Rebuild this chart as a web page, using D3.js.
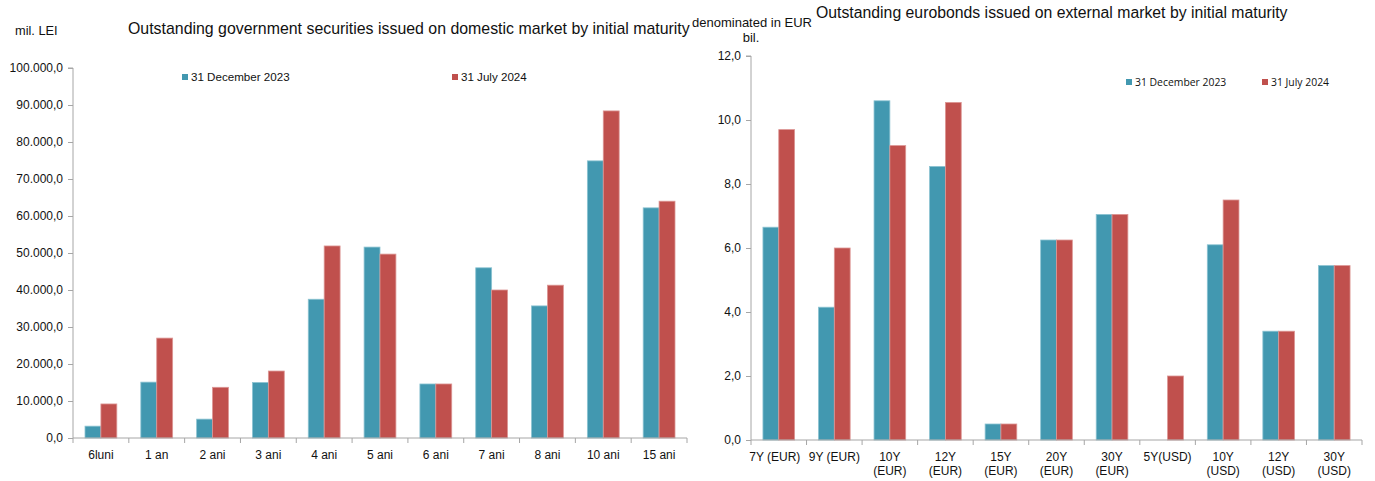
<!DOCTYPE html>
<html>
<head>
<meta charset="utf-8">
<script src="https://cdn.jsdelivr.net/npm/d3@7"></script>
<style>
  html, body { margin: 0; padding: 0; background: #fff; }
  svg { display: block; font-family: "Liberation Sans", Arial, sans-serif; }
</style>
</head>
<body>
<svg id="chart" width="1375" height="481"></svg>
<script>
// Domestic market: outstanding government securities by initial maturity (mil. LEI)
const domesticCategories = ["6luni", "1 an", "2 ani", "3 ani", "4 ani", "5 ani", "6 ani", "7 ani", "8 ani", "10 ani", "15 ani"];
const domesticDec2023 = [3200, 15100, 5100, 15000, 37500, 51600, 14600, 46000, 35700, 74900, 62200];
const domesticJul2024 = [9200, 27000, 13700, 18100, 51900, 49700, 14600, 40000, 41300, 88400, 64000];
const domesticTicks = [0, 10000, 20000, 30000, 40000, 50000, 60000, 70000, 80000, 90000, 100000];

// External market: outstanding eurobonds by initial maturity (bil., denominated in EUR)
const externalCategories = ["7Y (EUR)", "9Y (EUR)", "10Y\n(EUR)", "12Y\n(EUR)", "15Y\n(EUR)", "20Y\n(EUR)", "30Y\n(EUR)", "5Y(USD)", "10Y\n(USD)", "12Y\n(USD)", "30Y\n(USD)"];
const externalDec2023 = [6.65, 4.15, 10.6, 8.55, 0.5, 6.25, 7.05, 0, 6.1, 3.4, 5.45];
const externalJul2024 = [9.7, 6.0, 9.2, 10.55, 0.5, 6.25, 7.05, 2.0, 7.5, 3.4, 5.45];
const externalTicks = [0, 2, 4, 6, 8, 10, 12];

const seriesNames = ["31 December 2023", "31 July 2024"];
const seriesColors = ["#4298b0", "#c0504d"];
const seriesStrokes = ["#8cc3d2", "#dc9694"];

const roLocale = d3.formatLocale({ decimal: ",", thousands: ".", grouping: [3], currency: ["", ""] });
const fmtDomestic = roLocale.format(",.1f");
const fmtExternal = roLocale.format(".1f");

const svg = d3.select("#chart");
const axisColor = "#a6a6a6";

function drawPanel(opts) {
  const g = svg.append("g");
  const x0 = d3.scaleBand().domain(opts.categories).range([opts.left, opts.right]).padding(0);
  const bw = x0.bandwidth();
  const x1 = d3.scaleBand().domain(seriesNames).range([bw * 0.215, bw * 0.785]).padding(0);
  const y = d3.scaleLinear().domain([0, opts.yMax]).range([opts.bottom, opts.top]);

  const rows = opts.categories.map((c, i) => ({ cat: c, vals: [opts.s1[i], opts.s2[i]] }));

  // bars
  const groups = g.selectAll("g.grp").data(rows).enter().append("g")
    .attr("transform", d => `translate(${x0(d.cat)},0)`);
  groups.selectAll("rect")
    .data(d => d.vals.map((v, k) => ({ v, k })).filter(e => e.v > 0))
    .enter().append("rect")
    .attr("x", e => x1(seriesNames[e.k]))
    .attr("width", x1.bandwidth())
    .attr("y", e => y(e.v))
    .attr("height", e => y(0) - y(e.v))
    .attr("fill", e => seriesColors[e.k])
    .attr("stroke", e => seriesStrokes[e.k])
    .attr("stroke-width", 0.8);

  // y axis
  const yAxis = g.append("g")
    .attr("transform", `translate(${opts.left},0)`)
    .call(d3.axisLeft(y).tickValues(opts.ticks).tickFormat(opts.fmt).tickSize(5).tickPadding(5));
  yAxis.selectAll("path, line").attr("stroke", axisColor);
  yAxis.select("path.domain").attr("d", `M-5,${y(opts.yMax)}H0V${y(0)}`);
  yAxis.selectAll("text").attr("font-size", 12).attr("fill", "#111")
    .attr("font-family", "'Liberation Sans', Arial, sans-serif");

  // x axis: line plus ticks on band boundaries
  const xg = g.append("g");
  xg.append("line").attr("x1", opts.left).attr("x2", opts.right)
    .attr("y1", y(0)).attr("y2", y(0)).attr("stroke", axisColor);
  const bounds = opts.categories.map(c => x0(c)).concat([opts.right]);
  xg.selectAll("line.tk").data(bounds).enter().append("line")
    .attr("x1", d => d).attr("x2", d => d)
    .attr("y1", y(0)).attr("y2", y(0) + 5).attr("stroke", axisColor);
  const lbl = xg.selectAll("text.xl").data(opts.categories).enter().append("text")
    .attr("x", d => x0(d) + bw / 2 + (opts.labelShift ? opts.labelShift(d) : 0))
    .attr("y", y(0) + 21)
    .attr("text-anchor", "middle")
    .attr("font-size", 12).attr("fill", "#111");
  lbl.each(function(d) {
    const lines = d.split("\n");
    const t = d3.select(this);
    lines.forEach((ln, i) => {
      t.append("tspan").attr("x", t.attr("x")).attr("dy", i === 0 ? 0 : 14).text(ln);
    });
  });

  // legend
  const lg = g.append("g");
  seriesNames.forEach((s, k) => {
    lg.append("rect").attr("x", opts.legendX[k]).attr("y", opts.legendY - 3)
      .attr("width", 6).attr("height", 6).attr("fill", seriesColors[k]);
    lg.append("text").attr("x", opts.legendX[k] + 9).attr("y", opts.legendY + 4)
      .attr("font-size", opts.legendFont.size).attr("font-family", opts.legendFont.family)
      .attr("fill", "#111").text(s);
  });
  return g;
}

drawPanel({
  categories: domesticCategories, s1: domesticDec2023, s2: domesticJul2024,
  left: 73, right: 687, top: 68, bottom: 438, yMax: 100000,
  ticks: domesticTicks, fmt: fmtDomestic,
  legendX: [182, 452], legendY: 77,
  legendFont: { size: 11.6, family: "'Liberation Sans', Arial, sans-serif" }
});

drawPanel({
  categories: externalCategories, s1: externalDec2023, s2: externalJul2024,
  left: 751, right: 1362, top: 56, bottom: 440, yMax: 12,
  ticks: externalTicks, fmt: fmtExternal,
  legendX: [1126, 1262], legendY: 82,
  legendFont: { size: 10.4, family: "'Open Sans', sans-serif" },
  labelShift: d => (d === "7Y (EUR)" ? -4 : 0)
});

// titles and units
svg.append("text").attr("x", 128).attr("y", 34).attr("font-size", 15.9).attr("fill", "#111")
  .text("Outstanding government securities issued on domestic market by initial maturity");
svg.append("text").attr("x", 15).attr("y", 35).attr("font-size", 12.8).attr("fill", "#111")
  .text("mil. LEI");
svg.append("text").attr("x", 816).attr("y", 18).attr("font-size", 15.8).attr("fill", "#111")
  .text("Outstanding eurobonds issued on external market by initial maturity");
svg.append("text").attr("x", 752).attr("y", 27).attr("text-anchor", "middle").attr("font-size", 13).attr("fill", "#111")
  .text("denominated in EUR");
svg.append("text").attr("x", 751).attr("y", 42).attr("text-anchor", "middle").attr("font-size", 13).attr("fill", "#111")
  .text("bil.");
</script>
</body>
</html>
